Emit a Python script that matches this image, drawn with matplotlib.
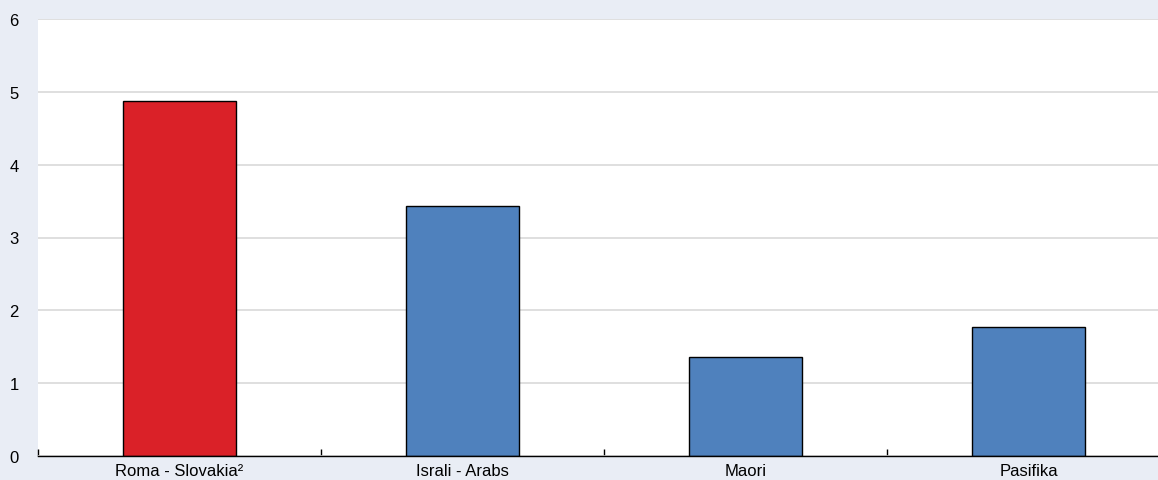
import matplotlib
matplotlib.use("Agg")
import matplotlib.pyplot as plt
from matplotlib.ticker import FixedLocator, NullFormatter

categories = ["Roma - Slovakia²", "Israli - Arabs", "Maori", "Pasifika"]
values = [4.88, 3.43, 1.36, 1.77]
colors = ["#DA2128", "#4F81BD", "#4F81BD", "#4F81BD"]
yticks = [0, 1, 2, 3, 4, 5, 6]

plt.rcParams['font.family'] = ['Liberation Sans', 'DejaVu Sans']

W, H = 1158, 481
fig = plt.figure(figsize=(W/100, H/100), dpi=100)
fig.patch.set_facecolor("#E9EDF5")
left, right, top, bottom = 38, 1170, 20, 457
ax = fig.add_axes([left/W, 1-bottom/H, (right-left)/W, (bottom-top)/H])
ax.set_facecolor("white")

x = list(range(len(categories)))
ax.bar(x, values, width=0.40, color=colors, edgecolor="black", linewidth=1, zorder=3)

ax.set_xlim(-0.5, len(categories)-0.5)
ax.set_ylim(0, 6)
ax.set_yticks(yticks)
ax.yaxis.grid(True, color="#D9D9D9", linewidth=1.2, zorder=0)
ax.tick_params(axis='y', length=0, pad=14, labelsize=12)
for s in ["top", "right", "left"]:
    ax.spines[s].set_visible(False)
ax.spines["bottom"].set_color("black")
ax.spines["bottom"].set_linewidth(1)
ax.spines["bottom"].set_zorder(4)

ax.set_xticks(x)
ax.set_xticklabels(categories, fontsize=12)
ax.tick_params(axis='x', which='major', length=0, pad=5)
ax.xaxis.set_minor_locator(FixedLocator([i - 0.5 for i in range(len(categories)+1)]))
ax.xaxis.set_minor_formatter(NullFormatter())
ax.tick_params(axis='x', which='minor', direction='in', length=5, width=1, color='black')

fig.savefig("out.png", dpi=100, facecolor=fig.get_facecolor())
